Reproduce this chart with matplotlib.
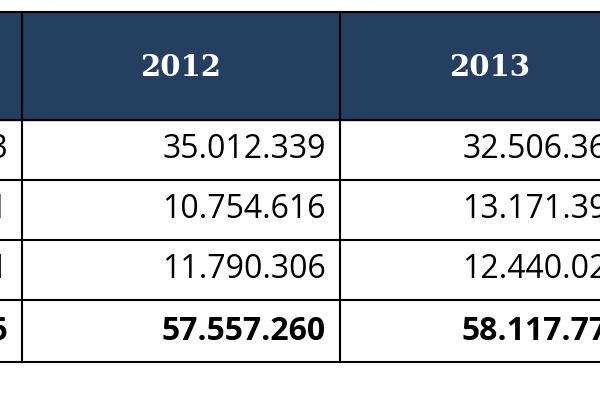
import matplotlib.pyplot as plt
from matplotlib.patches import Rectangle

years = ["2011", "2012", "2013"]
col_2011 = ["31.000.003", "9.000.001", "11.000.001", "51.000.006"]
col_2012 = ["35.012.339", "10.754.616", "11.790.306", "57.557.260"]
col_2013 = ["32.506.364", "13.171.391", "12.440.021", "58.117.776"]
bold_row = 3

fig = plt.figure(figsize=(6, 4), dpi=100)
ax = fig.add_axes([0, 0, 1, 1])
ax.set_xlim(0, 600)
ax.set_ylim(400, 0)
ax.axis("off")

col_edges = [-318, 22, 340, 640]
row_edges = [12, 120, 180, 240, 300, 362]
navy = "#243f60"

ax.add_patch(Rectangle((col_edges[0], row_edges[0]), col_edges[-1] - col_edges[0],
                       row_edges[1] - row_edges[0], color=navy, zorder=1))
for x in col_edges:
    ax.plot([x, x], [row_edges[0], row_edges[-1]], color="black", lw=1.5, zorder=3)
for y in row_edges:
    ax.plot([col_edges[0], col_edges[-1]], [y, y], color="black", lw=1.5, zorder=3)

for j, yr in enumerate(years):
    cx = (col_edges[j] + col_edges[j + 1]) / 2
    ax.text(cx, (row_edges[0] + row_edges[1]) / 2 + 2, yr, color="white",
            fontsize=21, fontweight="bold", family="DejaVu Serif",
            ha="center", va="center", zorder=4)

for j, col in enumerate([col_2011, col_2012, col_2013]):
    xr = col_edges[j + 1] - 14
    for i, v in enumerate(col):
        yc = (row_edges[i + 1] + row_edges[i + 2]) / 2
        ax.text(xr, yc, v, fontsize=23, ha="right", va="center",
                family="Open Sans",
                fontweight="bold" if i == bold_row else "normal", zorder=4)

fig.savefig("out.png", dpi=100)
